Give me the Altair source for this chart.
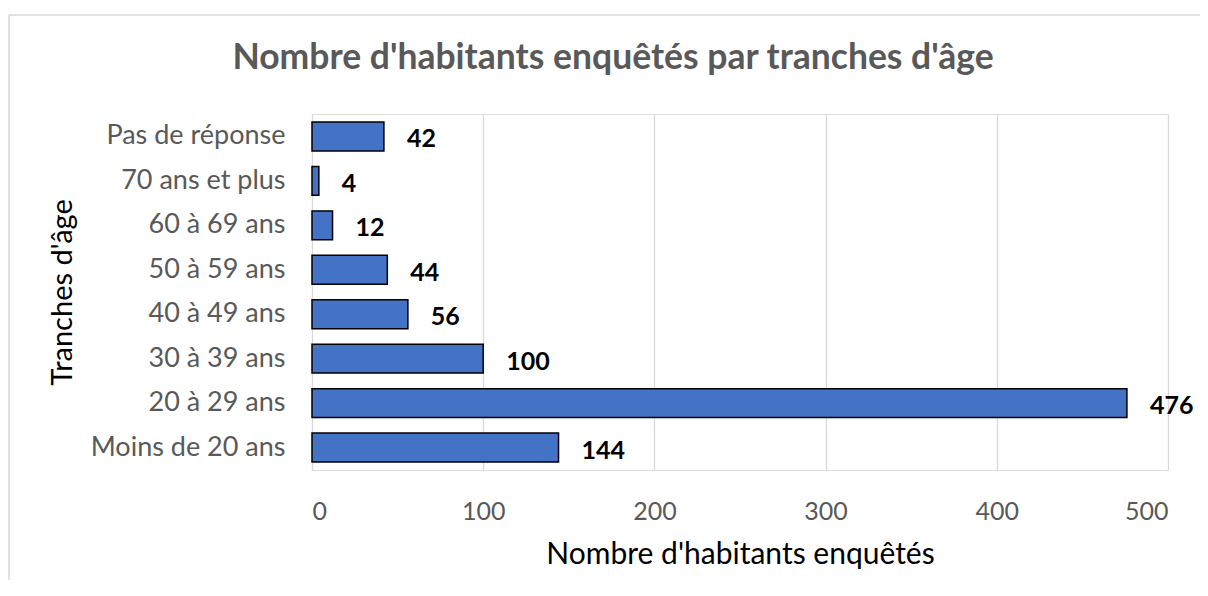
import altair as alt
import pandas as pd

categories = ["Pas de réponse", "70 ans et plus", "60 à 69 ans", "50 à 59 ans",
              "40 à 49 ans", "30 à 39 ans", "20 à 29 ans", "Moins de 20 ans"]
values = [42, 4, 12, 44, 56, 100, 476, 144]
x_ticks = [0, 100, 200, 300, 400, 500]

df = pd.DataFrame({"cat": categories, "val": values})

FONT = "Lato"
W, H = 856, 356

y_enc = alt.Y("cat:N", sort=categories,
              scale=alt.Scale(paddingInner=0.35, paddingOuter=0.18),
              axis=alt.Axis(title="Tranches d'âge", titleFont=FONT, titleFontSize=29,
                            titleFontWeight="normal", titleColor="#000000",
                            titlePadding=35, labelFont=FONT, labelFontSize=27,
                            labelColor="#595959", labelPadding=27, labelLimit=400,
                            ticks=False, domain=False, grid=False))
x_enc = alt.X("val:Q", scale=alt.Scale(domain=[0, 500], nice=False),
              axis=alt.Axis(values=x_ticks, title="Nombre d'habitants enquêtés",
                            titleFont=FONT, titleFontSize=30, titleFontWeight="normal",
                            titleColor="#000000", titlePadding=15,
                            labelFont=FONT, labelFontSize=25, labelColor="#595959",
                            labelPadding=29, ticks=False, domain=False,
                            grid=True, gridColor="#d9d9d9", gridWidth=1.3))

bars = alt.Chart(df).mark_bar(color="#4472C4", stroke="#000000", strokeWidth=1.5).encode(
    x=x_enc, y=y_enc)

labels = alt.Chart(df).mark_text(align="left", baseline="middle", dx=23, dy=3,
                                 font=FONT, fontSize=25, fontWeight="bold",
                                 color="#000000").encode(
    x=alt.X("val:Q"), y=alt.Y("cat:N", sort=categories), text="val:Q")

one = alt.Data(values=[{}])
border_top = alt.Chart(one).mark_rule(color="#d9d9d9", strokeWidth=1.5).encode(
    x=alt.value(-303), x2=alt.value(950), y=alt.value(-99))
border_left = alt.Chart(one).mark_rule(color="#d9d9d9", strokeWidth=1.5).encode(
    x=alt.value(-303), y=alt.value(-99), y2=alt.value(520))

chart = alt.layer(border_top, border_left, bars, labels).properties(
    width=W, height=H,
    title=alt.TitleParams("Nombre d'habitants enquêtés par tranches d'âge",
                          font=FONT, fontSize=35.5, fontWeight="bold", color="#595959",
                          anchor="middle", frame="group", baseline="alphabetic",
                          dx=-127, offset=-90),
    autosize=alt.AutoSizeParams(type="none"),
    padding={"left": 304, "top": 106, "right": 32, "bottom": 110},
).configure_view(stroke=None).configure(background="white")

chart.save("out.html", embed_options={"renderer": "svg", "actions": False})
